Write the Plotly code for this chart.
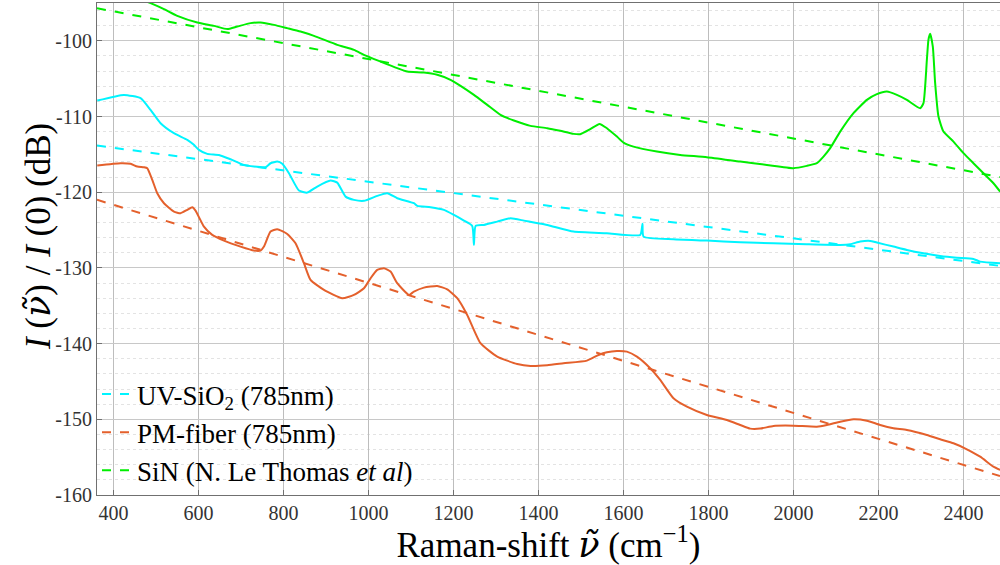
import plotly.graph_objects as go

# ---------------- data ----------------
sio2_x = [361.6, 424.4, 463.5, 487, 510.6, 542, 573.4, 589, 600.9, 620.5, 648, 675.3, 706.8, 730.4,
          757.6, 769.4, 785.2, 797, 812.7, 836.2, 855.8, 879.3, 910.6, 926.4, 946, 965.6, 989.2,
          1020.5, 1044, 1067.5, 1106.8, 1114.6, 1145.9, 1177.4, 1201, 1224.5, 1244, 1248, 1252,
          1271.5, 1302.8, 1334.1, 1365.6, 1389.2, 1420.5, 1482.4, 1560.9, 1639.3, 1644.7, 1647.1,
          1717.6, 1796.2, 1874.6, 1952.9, 2031.5, 2109.9, 2133.4, 2157, 2180.5, 2196.2, 2235.3,
          2266.8, 2305.9, 2345.2, 2384.5, 2423.5, 2439.3, 2486.3]
sio2_y = [-107.89, -107.14, -107.57, -109.12, -110.88, -112.2, -113.08, -113.74, -114.4, -114.93,
          -115.07, -115.64, -116.39, -116.61, -116.69, -116.17, -115.95, -116.25, -117.49, -119.78,
          -120.05, -119.25, -118.46, -118.73, -120.58, -121.01, -121.14, -120.48, -120.13, -120.79,
          -121.45, -121.81, -121.98, -122.33, -123.0, -123.75, -124.45, -126.96, -124.45, -124.32,
          -123.88, -123.43, -123.75, -124.01, -124.32, -125.2, -125.41, -125.64, -124.18, -125.86,
          -126.21, -126.39, -126.61, -126.74, -126.87, -126.96, -126.87, -126.52, -126.43, -126.65,
          -127.18, -127.62, -128.06, -128.41, -128.64, -128.81, -129.17, -129.38]

pm_x = [361.6, 416.5, 440, 455.8, 471.5, 479.3, 491.1, 502.8, 518.6, 542.1, 557.6, 573.4, 585.2,
        592.9, 612.7, 632.2, 659.8, 698.8, 730.4, 745.9, 753.9, 769.4, 785.2, 808.7, 828.2, 848,
        863.5, 895.1, 938.1, 965.6, 989.2, 1004.7, 1020.5, 1036.2, 1051.8, 1067.5, 1095.1, 1106.8,
        1130.4, 1161.6, 1185.2, 1208.7, 1232.2, 1263.5, 1302.8, 1349.9, 1381.2, 1420.5, 1458.8,
        1513.9, 1541.2, 1560.9, 1584.5, 1608, 1631.5, 1662.8, 1686.4, 1717.6, 1749.2, 1796.2,
        1843.3, 1874.6, 1898.1, 1921.6, 1952.9, 2000, 2055, 2078.6, 2109.9, 2141.2, 2172.7, 2204,
        2235.3, 2266.8, 2313.9, 2345.2, 2376.5, 2408, 2439.3, 2470.6, 2486.3]
pm_y = [-116.48, -116.17, -116.25, -116.61, -116.69, -116.82, -118.37, -120.13, -121.45, -122.56,
        -122.77, -122.33, -121.98, -122.43, -124.54, -125.64, -126.39, -127.18, -127.71, -127.71,
        -127.18, -125.2, -124.88, -125.51, -126.74, -129.38, -131.58, -132.91, -134.0, -133.57,
        -132.69, -131.37, -130.26, -130.04, -130.48, -132.02, -133.57, -133.13, -132.6, -132.38,
        -132.82, -134.0, -136.21, -139.95, -141.72, -142.69, -142.95, -142.86, -142.6, -142.25,
        -141.5, -141.14, -140.97, -141.06, -141.72, -143.25, -144.8, -147.22, -148.33, -149.43,
        -150.09, -150.75, -151.23, -151.23, -150.88, -150.84, -150.97, -150.75, -150.31, -149.99,
        -150.18, -150.75, -151.18, -151.41, -152.07, -152.64, -153.17, -153.96, -154.94, -156.26,
        -156.69]

sin_x = [361, 430, 487, 518.6, 549.9, 597, 636.2, 667.5, 691, 722.4, 745.9, 777.4, 808.7, 840,
         871.5, 926.4, 965.6, 989.2, 1028.2, 1067.5, 1091.1, 1130.4, 1161.6, 1192.9, 1216.5, 1248,
         1279.3, 1310.6, 1342.1, 1381.2, 1420.5, 1451.1, 1482.4, 1498.1, 1521.6, 1543.5, 1560.9,
         1584.5, 1600, 1623.5, 1678.6, 1733.4, 1796.2, 1874.6, 1937.4, 2000, 2031.5, 2055, 2070.6,
         2086.4, 2109.9, 2141.2, 2172.7, 2196.2, 2219.8, 2243.3, 2266.8, 2298.1, 2305.9, 2313.9,
         2317.6, 2321.6, 2327.9, 2333.4, 2341.2, 2352.9, 2376.5, 2400, 2423.5, 2447.1, 2470.6,
         2486.3]
sin_y = [-92.4, -93.8, -95.02, -95.81, -96.7, -97.58, -98.02, -98.45, -98.11, -97.66, -97.58,
         -97.89, -98.32, -98.77, -99.34, -100.53, -101.19, -101.85, -102.74, -103.61, -104.06,
         -104.19, -104.49, -105.15, -105.95, -107.14, -108.46, -109.78, -110.53, -111.23, -111.54,
         -111.89, -112.29, -112.33, -111.67, -110.97, -111.54, -112.65, -113.44, -113.97, -114.63,
         -115.07, -115.37, -115.95, -116.39, -116.82, -116.52, -116.17, -115.29, -114.18, -111.99,
         -109.55, -107.8, -107.04, -106.7, -107.14, -107.8, -108.9, -108.23, -102.51, -99.87,
         -99.07, -100.75, -105.59, -110.0, -111.99, -113.31, -114.84, -116.17, -117.49, -118.81,
         -119.92]

# linear fits (dashed), endpoints
fit_x = [361, 2486]
sio2_fit_y = [-113.84, -129.73]
pm_fit_y = [-121.0, -157.5]
sin_fit_y = [-95.7, -118.0]

names = ["UV-SiO<sub>2</sub> (785nm)", "PM-fiber (785nm)", "SiN (N. Le Thomas <i>et al</i>)"]
x_ticks = [400, 600, 800, 1000, 1200, 1400, 1600, 1800, 2000, 2200, 2400]
y_ticks = [-160, -150, -140, -130, -120, -110, -100]

# ---------------- styling ----------------
C_CYAN = "#00F4FF"
C_ORANGE = "#E4602C"
C_GREEN = "#00EE00"
FONT = "Liberation Serif"
NU = "<span style='font-family:DejaVu Serif'><i>ν̃</i></span>"

fig = go.Figure()
for xs, ys, c in [(sio2_x, sio2_y, C_CYAN), (pm_x, pm_y, C_ORANGE), (sin_x, sin_y, C_GREEN)]:
    fig.add_trace(go.Scatter(x=xs, y=ys, mode="lines",
                             line=dict(color=c, width=2, shape="spline", smoothing=0.5),
                             showlegend=False, hoverinfo="skip"))
for fy, c, n in [(sio2_fit_y, C_CYAN, names[0]), (pm_fit_y, C_ORANGE, names[1]),
                 (sin_fit_y, C_GREEN, names[2])]:
    fig.add_trace(go.Scatter(x=fit_x, y=fy, mode="lines", name=n,
                             line=dict(color=c, width=2, dash="dash")))

fig.update_layout(
    width=1000, height=565,
    margin=dict(l=97, r=0, t=3, b=70),
    paper_bgcolor="white", plot_bgcolor="white",
    font=dict(family=FONT, color="#262626"),
    legend=dict(x=0.0, y=0.0, xanchor="left", yanchor="bottom",
                bgcolor="rgba(0,0,0,0)", font=dict(size=27, family=FONT, color="black"),
                itemwidth=30, tracegroupgap=0),
)
fig.update_xaxes(
    range=[361, 2486], tickvals=x_ticks, ticktext=[str(v) for v in x_ticks],
    showgrid=True, gridcolor="#BDBDBD", gridwidth=1,
    showline=True, linecolor="#707070", linewidth=1, mirror=True,
    ticks="inside", ticklen=5, tickcolor="#707070",
    tickfont=dict(size=20, family=FONT, color="#333333"),
    title=dict(text="Raman-shift " + NU + " (cm<sup>−1</sup>)",
               font=dict(size=35, family=FONT, color="black"), standoff=6),
    zeroline=False,
)
fig.update_yaxes(
    range=[-160, -95], tickvals=y_ticks, ticktext=[str(v) for v in y_ticks],
    showgrid=True, gridcolor="#C8C8C8", gridwidth=1,
    minor=dict(dtick=2, showgrid=True, gridcolor="#E3E3E3", griddash="dot", gridwidth=1),
    showline=True, linecolor="#707070", linewidth=1, mirror=True,
    ticks="inside", ticklen=5, tickcolor="#707070",
    tickfont=dict(size=20, family=FONT, color="#333333"),
    zeroline=False,
)
# y-axis title placed as a rotated annotation for exact positioning
fig.add_annotation(
    text="<i>I</i> (" + NU + ") / <i>I</i> (0) (dB)",
    xref="paper", yref="paper", x=-0.066, y=0.525, xanchor="center", yanchor="middle",
    textangle=-90, showarrow=False,
    font=dict(size=35, family=FONT, color="black"),
)

fig.write_html("out.html", config={"displayModeBar": False},
               post_script="document.body.style.margin='0';")
